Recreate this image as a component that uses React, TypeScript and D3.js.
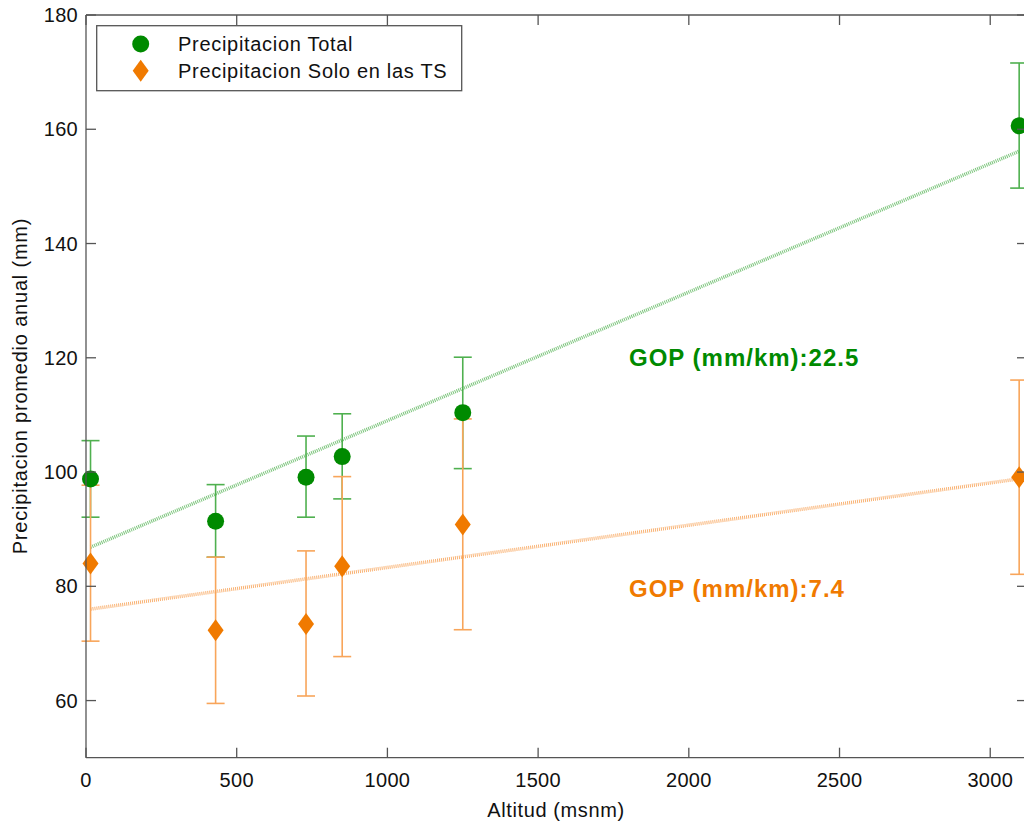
import React from "react";
import * as d3 from "d3";

const altitudes = [15, 430, 730, 850, 1250, 3096];
const totalMean = [98.8, 91.4, 99.1, 102.7, 110.4, 160.6];
const totalUpper = [105.5, 97.8, 106.3, 110.2, 120.1, 171.6];
const totalLower = [92.1, 85.1, 92.1, 95.3, 100.6, 149.7];
const tsMean = [84.0, 72.3, 73.4, 83.5, 90.8, 99.1];
const tsUpper = [97.7, 85.1, 86.2, 99.2, 109.3, 116.1];
const tsLower = [70.4, 59.5, 60.8, 67.7, 72.4, 82.1];
const fitTotal = { intercept: 86.5, slopePerKm: 22.5 };
const fitTs = { intercept: 75.9, slopePerKm: 7.4 };
const xTicks = [0, 500, 1000, 1500, 2000, 2500, 3000];
const yTicks = [60, 80, 100, 120, 140, 160, 180];
const legendLabels = ["Precipitacion Total", "Precipitacion Solo en las TS"];

const GREEN = "#008a00";
const ORANGE = "#f07a00";
const GREEN_LIGHT = "#4fb04f";
const ORANGE_LIGHT = "#f8a55a";
const FONT = "'Liberation Sans', Arial, Helvetica, sans-serif";

export default function App() {
  const W = 1024, H = 826;
  const left = 86, right = 1027, top = 15, bottom = 757.7;
  const x = d3.scaleLinear().domain([0, 3122]).range([left, right]);
  const y = d3.scaleLinear().domain([50, 180]).range([bottom, top]);
  const axisColor = "#555";
  const tickLen = 10;
  const x0 = altitudes[0], x1 = altitudes[altitudes.length - 1];
  const line = d3.line<[number, number]>().x(d => x(d[0])).y(d => y(d[1]));
  const fitPts = (f: { intercept: number; slopePerKm: number }) =>
    [x0, x1].map(a => [a, f.intercept + (f.slopePerKm / 1000) * a] as [number, number]);
  const diamond = (cx: number, cy: number) =>
    `M${cx},${cy - 11}L${cx + 8},${cy}L${cx},${cy + 11}L${cx - 8},${cy}Z`;
  const capW = 9;

  const errBars = (lo: number[], hi: number[], color: string) =>
    altitudes.map((a, i) => (
      <g key={i} stroke={color} strokeWidth={1.6} fill="none">
        <line x1={x(a)} x2={x(a)} y1={y(lo[i])} y2={y(hi[i])} />
        <line x1={x(a) - capW} x2={x(a) + capW} y1={y(lo[i])} y2={y(lo[i])} />
        <line x1={x(a) - capW} x2={x(a) + capW} y1={y(hi[i])} y2={y(hi[i])} />
      </g>
    ));

  return (
    <svg width={W} height={H} style={{ position: "absolute", left: 0, top: 0, background: "#fff" }} fontFamily={FONT}>
      <rect x={0} y={0} width={W} height={H} fill="#fff" />
      {/* fit lines */}
      <path d={line(fitPts(fitTotal)) || ""} stroke={GREEN_LIGHT} strokeWidth={3.5} strokeDasharray="1,1" fill="none" opacity={0.75} />
      <path d={line(fitPts(fitTs)) || ""} stroke={ORANGE_LIGHT} strokeWidth={3.5} strokeDasharray="1,1" fill="none" opacity={0.85} />
      {/* error bars */}
      {errBars(totalLower, totalUpper, GREEN_LIGHT)}
      {errBars(tsLower, tsUpper, ORANGE_LIGHT)}
      {/* markers */}
      {altitudes.map((a, i) => (
        <circle key={"c" + i} cx={x(a)} cy={y(totalMean[i])} r={8.5} fill={GREEN} />
      ))}
      {altitudes.map((a, i) => (
        <path key={"d" + i} d={diamond(x(a), y(tsMean[i]))} fill={ORANGE} />
      ))}
      {/* axes box */}
      <g stroke={axisColor} strokeWidth={1.3} fill="none">
        <line x1={left} x2={left} y1={top} y2={bottom} />
        <line x1={left} x2={right} y1={bottom} y2={bottom} />
        <line x1={left} x2={right} y1={top} y2={top} />
        <line x1={right} x2={right} y1={top} y2={bottom} />
        {xTicks.map(t => (
          <g key={"xt" + t}>
            <line x1={x(t)} x2={x(t)} y1={bottom} y2={bottom - tickLen} />
            <line x1={x(t)} x2={x(t)} y1={top} y2={top + tickLen} />
          </g>
        ))}
        {yTicks.map(t => (
          <g key={"yt" + t}>
            <line x1={left} x2={left + tickLen} y1={y(t)} y2={y(t)} />
            <line x1={right} x2={right - tickLen} y1={y(t)} y2={y(t)} />
          </g>
        ))}
      </g>
      {xTicks.map(t => (
        <text key={"xl" + t} x={x(t)} y={787} fontSize={20} letterSpacing={0.3} textAnchor="middle" fill="#111">{t}</text>
      ))}
      {yTicks.map(t => (
        <text key={"yl" + t} x={78} y={y(t) + 7} fontSize={20} letterSpacing={0.3} textAnchor="end" fill="#111">{t}</text>
      ))}
      <text x={556} y={817} fontSize={20} letterSpacing={0.6} textAnchor="middle" fill="#111">Altitud (msnm)</text>
      <text transform={`translate(27,386) rotate(-90)`} fontSize={20} letterSpacing={0.8} textAnchor="middle" fill="#111">Precipitacion promedio anual (mm)</text>
      {/* GOP labels */}
      <text x={629} y={366} fontSize={24} letterSpacing={1} fontWeight="bold" fill={GREEN}>{`GOP (mm/km):${fitTotal.slopePerKm}`}</text>
      <text x={629} y={597} fontSize={24} letterSpacing={1} fontWeight="bold" fill={ORANGE}>{`GOP (mm/km):${fitTs.slopePerKm}`}</text>
      {/* legend */}
      <rect x={96.7} y={25.7} width={365} height={65} fill="#fff" stroke={axisColor} strokeWidth={1.3} />
      <circle cx={140.7} cy={44} r={8.5} fill={GREEN} />
      <path d={diamond(140.7, 70.7)} fill={ORANGE} />
      <text x={178} y={51} fontSize={20} letterSpacing={0.7} fill="#111">{legendLabels[0]}</text>
      <text x={178} y={78} fontSize={20} letterSpacing={0.7} fill="#111">{legendLabels[1]}</text>
    </svg>
  );
}
